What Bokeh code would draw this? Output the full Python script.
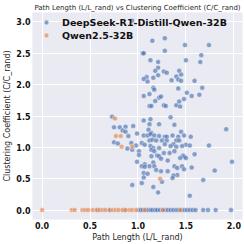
from bokeh.plotting import figure
from bokeh.models import Legend, LegendItem, FixedTicker, Range1d
from bokeh.embed import file_html
from bokeh.resources import INLINE

# DeepSeek-R1-Distill-Qwen-32B (nonzero clustering)
ds_x = [0.94,
        1.15, 1.28, 1.49, 1.74, 1.05, 1.06, 1.28, 1.66, 1.13, 1.21, 1.50, 1.65,
        1.21, 1.18, 1.27, 1.30, 1.43, 1.45, 1.21, 1.09, 1.06, 1.16, 1.10, 1.35,
        1.40, 1.42, 1.45, 1.59, 1.67, 1.16, 1.17, 1.42, 1.51, 1.56, 1.64, 1.06,
        1.12, 1.22, 1.24, 1.18, 1.48, 1.43, 1.12, 1.14, 1.27, 1.29, 1.40, 1.44,
        0.73, 1.06, 1.13, 1.34, 1.12, 1.22, 1.38, 0.95, 0.75, 0.81, 0.87, 0.84,
        0.87, 1.11, 1.92, 1.45, 0.99, 1.14,
        0.90, 1.06, 1.10, 1.13, 1.17, 1.22, 1.28, 1.30, 1.36, 1.42, 1.48, 1.55,
        1.12, 1.15, 1.19, 1.25, 1.30, 1.40, 1.43, 0.75, 0.79, 0.93, 0.98, 1.04,
        1.07, 1.50, 1.54, 1.74, 1.37, 1.34, 1.40, 1.46, 1.28, 1.22,
        1.13, 1.16, 0.89, 0.94, 1.01, 1.01, 1.14, 1.17, 1.27, 1.59, 1.33, 1.38,
        1.14, 1.20, 1.22, 1.47, 1.48, 1.31, 1.24, 1.98, 1.16, 0.99, 1.44, 1.50,
        1.07, 1.04, 1.12, 1.07, 1.17, 1.56, 1.38, 1.41, 1.46, 1.48, 1.31, 1.19,
        1.24, 1.80, 1.06, 1.10, 1.41, 1.37, 1.06, 1.36, 1.68, 1.25, 1.04, 0.94,
        1.16, 1.21, 1.54]
ds_y = [3.02,
        2.70, 2.74, 2.63, 2.63, 2.50, 2.50, 2.54, 2.47, 2.39, 2.36, 2.39, 2.36,
        2.27, 2.22, 2.21, 2.19, 2.22, 2.16, 2.15, 2.12, 2.09, 2.11, 2.05, 2.07,
        2.13, 2.08, 2.06, 2.06, 1.95, 1.95, 1.92, 1.94, 1.87, 1.82, 1.84, 1.82,
        1.85, 1.79, 1.81, 1.74, 1.77, 1.73, 1.66, 1.66, 1.67, 1.66, 1.67, 1.65,
        1.49, 1.43, 1.45, 1.48, 1.37, 1.37, 1.36, 1.34, 1.32, 1.32, 1.33, 1.27,
        1.25, 1.28, 1.29, 1.25, 1.22, 1.23,
        1.18, 1.19, 1.19, 1.21, 1.19, 1.18, 1.17, 1.17, 1.19, 1.17, 1.19, 1.17,
        1.11, 1.12, 1.11, 1.11, 1.11, 1.11, 1.11, 1.08, 1.06, 1.07, 1.03, 1.07,
        1.04, 1.04, 1.03, 1.03, 1.05, 1.02, 1.01, 1.02, 1.05, 0.99,
        1.02, 0.99, 0.98, 0.96, 0.94, 0.88, 0.96, 0.94, 0.91, 0.89, 0.91, 0.94,
        0.86, 0.87, 0.86, 0.87, 0.85, 0.79, 0.82, 0.77, 0.76, 0.77, 0.83, 0.83,
        0.73, 0.70, 0.70, 0.69, 0.70, 0.68, 0.70, 0.67, 0.70, 0.65, 0.62, 0.64,
        0.62, 0.63, 0.59, 0.58, 0.56, 0.55, 0.52, 0.51, 0.48, 0.45, 0.43, 0.40,
        0.37, 0.28, 0.23]
# DeepSeek points with zero clustering coefficient
ds_zero_x = [0.58, 0.70, 0.86, 1.01, 1.03, 1.05, 1.08, 1.10, 1.13, 1.15, 1.18,
             1.20, 1.23, 1.26, 1.28, 1.31, 1.34, 1.37, 1.40, 1.42, 1.45, 1.48,
             1.51, 1.54, 1.57, 1.60, 1.68, 1.73, 1.81, 1.97]

# Qwen2.5-32B
qw_x = [0.76, 0.77, 0.82, 0.83, 0.94, 1.23]
qw_y = [1.46, 1.18, 1.18, 1.01, 1.01, 0.50]
qw_zero_x = [0.00, 0.31, 0.34, 0.42, 0.45, 0.48, 0.53, 0.57, 0.60, 0.63, 0.66,
             0.71, 0.74, 0.77, 0.80, 0.84, 0.87, 0.91, 0.94, 0.98, 1.07, 1.26, 1.44]

x_ticks = [0.0, 0.5, 1.0, 1.5, 2.0]
y_ticks = [0.0, 0.5, 1.0, 1.5, 2.0, 2.5, 3.0]

series_names = ["DeepSeek-R1-Distill-Qwen-32B", "Qwen2.5-32B"]
colors = ["#4C72B0", "#DD8452"]

all_ds_x = ds_x + ds_zero_x
all_ds_y = ds_y + [0.0] * len(ds_zero_x)
all_qw_x = qw_x + qw_zero_x
all_qw_y = qw_y + [0.0] * len(qw_zero_x)

FONT = "DejaVu Sans"
FW, FH = 210, 207

p = figure(frame_width=FW, frame_height=FH, output_backend="svg", toolbar_location=None,
           x_range=Range1d(-0.1, 2.09), y_range=Range1d(-0.15, 3.15),
           title="Path Length (L/L_rand) vs Clustering Coefficient (C/C_rand)",
           background_fill_color="#EAEAF2", border_fill_color="white",
           min_border_left=0, min_border_right=2, min_border_top=0, min_border_bottom=0)
p.outline_line_color = None

p.title.text_font = FONT
p.title.text_font_size = "7px"
p.title.text_font_style = "normal"
p.title.text_color = "#262626"
p.title.align = "center"
p.title.standoff = 2

r_ds = p.scatter(all_ds_x, all_ds_y, size=5, fill_color=colors[0], fill_alpha=0.65,
                 line_color="white", line_width=0.4)
r_qw = p.scatter(all_qw_x, all_qw_y, size=5, fill_color=colors[1], fill_alpha=0.65,
                 line_color="white", line_width=0.4)

for ax, ticks, label in ((p.xaxis[0], x_ticks, "Path Length (L/L_rand)"),
                         (p.yaxis[0], y_ticks, "Clustering Coefficient (C/C_rand)")):
    ax.ticker = FixedTicker(ticks=ticks)
    ax.axis_label = label
    ax.axis_label_text_font = FONT
    ax.axis_label_text_font_size = "8px"
    ax.axis_label_text_font_style = "normal"
    ax.axis_label_text_color = "#262626"
    ax.axis_label_standoff = 1
    ax.major_label_text_font = FONT
    ax.major_label_text_font_size = "8px"
    ax.major_label_text_font_style = "bold"
    ax.major_label_text_color = "#111111"
    ax.major_label_standoff = 2
    ax.major_tick_out = 0
    ax.major_tick_in = 0
    ax.minor_tick_out = 0
    ax.minor_tick_in = 0
    ax.major_tick_line_color = None
    ax.minor_tick_line_color = None
    ax.axis_line_color = None

p.xaxis.major_label_overrides = {t: f"{t:.1f}" for t in x_ticks}
p.yaxis.major_label_overrides = {t: f"{t:.1f}" for t in y_ticks}

p.grid.grid_line_color = "white"
p.grid.grid_line_width = 1

legend = Legend(items=[LegendItem(label=series_names[0], renderers=[r_ds]),
                       LegendItem(label=series_names[1], renderers=[r_qw])],
                location=(8, FH - 29), background_fill_alpha=0, border_line_alpha=0,
                label_text_font=FONT, label_text_font_style="bold",
                label_text_font_size="9.5px", label_text_color="#111111",
                label_height=12, glyph_width=12, glyph_height=12, spacing=1,
                padding=0, margin=0, label_standoff=10)
p.add_layout(legend)

open("out.html", "w").write(file_html(p, INLINE))
